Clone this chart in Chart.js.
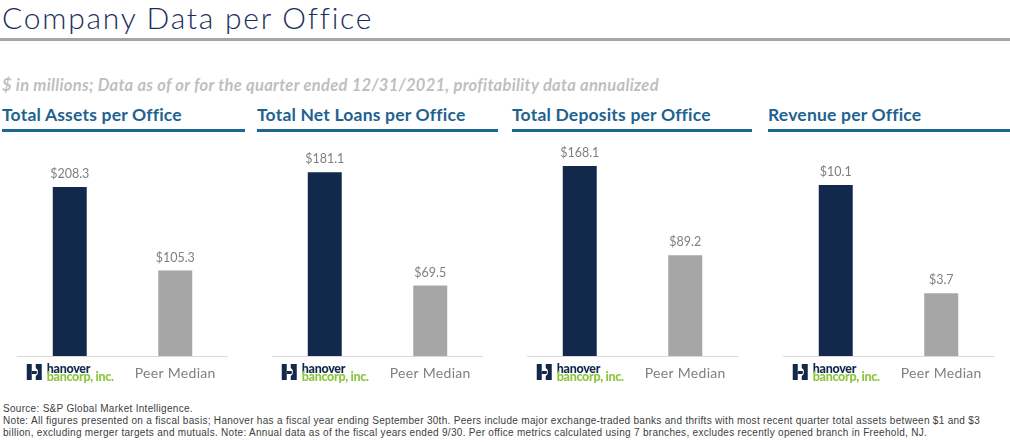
<!DOCTYPE html>
<html>
<head>
<meta charset="utf-8">
<script src="https://cdn.jsdelivr.net/npm/chart.js@4/dist/chart.umd.min.js"></script>
<style>
  html, body { margin: 0; padding: 0; background: #fff; }
  #wrap { position: relative; width: 1010px; height: 442px; overflow: hidden; font-family: Lato, "Open Sans", sans-serif; }
  .abs { position: absolute; white-space: nowrap; }
  #title { left: 2px; top: 0px; font-size: 30px; font-weight: 300; color: #1b2f5a; line-height: 34px; letter-spacing: 1.75px; }
  #rule { left: 0; top: 38px; width: 1010px; height: 3px; background: #a6a6a6; }
  #sub { left: 2px; top: 74px; font-size: 16.5px; font-style: italic; font-weight: 700; color: #bfbfbf; line-height: 22px; letter-spacing: 0.3px; }
  .ph { font-size: 17.5px; font-weight: 700; color: #1e6290; line-height: 22px; top: 104px; letter-spacing: 0.2px; }
  .pl { height: 3px; background: #1f6593; top: 129px; }
  canvas.c { position: absolute; }
  .fn { left: 3px; font-size: 10px; color: #404040; line-height: 12px; font-family: "Liberation Sans", Arial, sans-serif; letter-spacing: 0.3px; }
</style>
</head>
<body>
<div id="wrap">
  <div id="title" class="abs">Company Data per Office</div>
  <div id="rule" class="abs"></div>
  <div id="sub" class="abs">$ in millions; Data as of or for the quarter ended 12/31/2021, profitability data annualized</div>
  <div id="fn1" class="abs fn" style="top:403px">Source: S&amp;P Global Market Intelligence.</div>
  <div id="fn2" class="abs fn" style="top:415px">Note: All figures presented on a fiscal basis; Hanover has a fiscal year ending September 30th. Peers include major exchange-traded banks and thrifts with most recent quarter total assets between $1 and $3</div>
  <div id="fn3" class="abs fn" style="top:427px">billion, excluding merger targets and mutuals. Note: Annual data as of the fiscal years ended 9/30. Per office metrics calculated using 7 branches, excludes recently opened branch in Freehold, NJ.</div>
</div>
<script>
// ---- data ----
const categories = ['hanover bancorp, inc.', 'Peer Median'];
const panelTitles = ['Total Assets per Office', 'Total Net Loans per Office', 'Total Deposits per Office', 'Revenue per Office'];
const hanoverValues = [208.3, 181.1, 168.1, 10.1];
const peerValues = [105.3, 69.5, 89.2, 3.7];
const axisMax = [254, 203, 182.3, 12.17];

// ---- layout / style ----
const NAVY = '#12294b';
const GRAY = '#a6a6a6';
const wrap = document.getElementById('wrap');
const panelX = [0, 255, 510, 766];
const lineW = [243, 241, 240, 242];

const labelPlugin = {
  id: 'labels',
  afterDatasetsDraw(chart) {
    const ctx = chart.ctx;
    const meta = chart.getDatasetMeta(0);
    const xs = chart.scales.x, ys = chart.scales.y;
    const y0 = ys.getPixelForValue(0);
    // baseline
    ctx.save();
    ctx.strokeStyle = '#d9d9d9';
    ctx.lineWidth = 1;
    ctx.beginPath();
    ctx.moveTo(chart.chartArea.left, Math.round(y0) + 0.5);
    ctx.lineTo(chart.chartArea.right, Math.round(y0) + 0.5);
    ctx.stroke();
    // value labels
    ctx.fillStyle = '#7f7f7f';
    ctx.font = '12.5px Lato, "Open Sans", sans-serif';
    ctx.textAlign = 'center';
    ctx.textBaseline = 'middle';
    meta.data.forEach((bar, i) => {
      const v = chart.data.datasets[0].data[i];
      ctx.fillText('$' + v.toFixed(1), bar.x, bar.y - 13);
    });
    // category labels
    const ly = y0 + 17;
    // logo for first category
    const cx = xs.getPixelForValue(0);
    const lx = cx - 43;
    ctx.fillStyle = NAVY;
    ctx.fillRect(lx, ly - 9, 5, 16);
    ctx.fillRect(lx + 5, ly - 2, 5, 3);
    ctx.beginPath();
    ctx.moveTo(lx + 9, ly - 9);
    ctx.lineTo(lx + 15, ly - 9);
    ctx.lineTo(lx + 15, ly + 7);
    ctx.lineTo(lx + 9, ly + 7);
    ctx.lineTo(lx + 9, ly + 3);
    ctx.lineTo(lx + 11, ly + 1);
    ctx.lineTo(lx + 11, ly - 3);
    ctx.lineTo(lx + 9, ly - 5);
    ctx.closePath();
    ctx.fill();
    ctx.textAlign = 'left';
    ctx.textBaseline = 'alphabetic';
    ctx.font = '900 12.5px Lato, "Open Sans", sans-serif';
    ctx.letterSpacing = '-0.3px';
    ctx.fillStyle = NAVY;
    ctx.fillText('hanover', lx + 20, ly - 0.5);
    ctx.fillStyle = '#8cc63f';
    ctx.fillText('bancorp, inc.', lx + 20, ly + 8);
    // second category
    ctx.letterSpacing = '0.3px';
    ctx.fillStyle = '#7f7f7f';
    ctx.font = '14px Lato, "Open Sans", sans-serif';
    ctx.textAlign = 'center';
    ctx.textBaseline = 'middle';
    ctx.fillText(categories[1], xs.getPixelForValue(1), ly);
    ctx.restore();
  }
};

panelTitles.forEach((t, i) => {
  const h = document.createElement('div');
  h.className = 'abs ph';
  h.style.left = (panelX[i] + 2) + 'px';
  h.textContent = t;
  wrap.appendChild(h);
  const l = document.createElement('div');
  l.className = 'abs pl';
  l.style.left = (panelX[i] + 2) + 'px';
  l.style.width = lineW[i] + 'px';
  wrap.appendChild(l);

  const cv = document.createElement('canvas');
  cv.className = 'c';
  cv.width = 225; cv.height = 250;
  cv.style.left = (panelX[i] + 10) + 'px';
  cv.style.top = '140px';
  cv.style.width = '225px'; cv.style.height = '250px';
  wrap.appendChild(cv);

  new Chart(cv, {
    type: 'bar',
    data: {
      labels: categories,
      datasets: [{
        data: [hanoverValues[i], peerValues[i]],
        backgroundColor: [NAVY, GRAY],
        borderWidth: 0,
        barPercentage: 0.322,
        categoryPercentage: 1
      }]
    },
    options: {
      responsive: false,
      animation: false,
      layout: { padding: { left: 7, right: 7, top: 10, bottom: 34 } },
      plugins: { legend: { display: false }, tooltip: { enabled: false } },
      scales: {
        x: { display: false },
        y: { display: false, min: 0, max: axisMax[i] }
      }
    },
    plugins: [labelPlugin]
  });
});
</script>
</body>
</html>
